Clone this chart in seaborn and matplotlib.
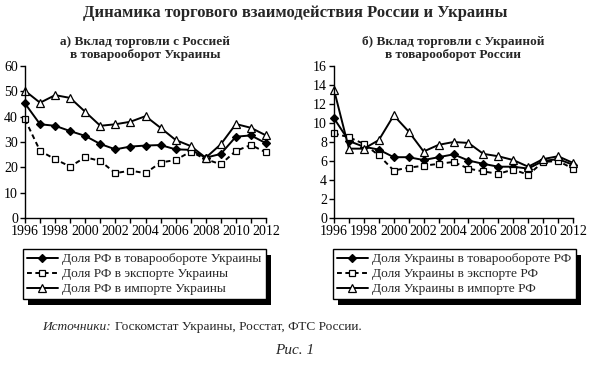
import matplotlib

matplotlib.use("Agg")
import matplotlib.pyplot as plt
import numpy as np
import pandas as pd
import seaborn as sns
from matplotlib.patches import Rectangle

YEARS = list(range(1996, 2013))

# а) доля России во внешней торговле Украины, %
UA_TURNOVER = [45.2, 37.0, 36.4, 34.3, 32.4, 29.2, 27.1, 28.2, 28.6, 28.8, 27.1, 26.9, 23.8, 25.3, 32.1, 32.6, 29.5]
UA_EXPORT = [38.9, 26.5, 23.2, 20.3, 24.0, 22.5, 17.7, 18.7, 17.7, 21.9, 22.9, 26.2, 23.2, 21.2, 26.5, 28.8, 25.9]
UA_IMPORT = [50.2, 45.5, 48.5, 47.4, 41.9, 36.4, 37.0, 38.0, 40.2, 35.6, 30.8, 28.4, 23.8, 29.1, 37.1, 35.6, 32.6]

# б) доля Украины во внешней торговле России, %
RU_TURNOVER = [10.5, 8.1, 7.5, 7.2, 6.4, 6.4, 6.1, 6.4, 6.7, 6.05, 5.7, 5.4, 5.4, 5.2, 6.0, 6.2, 5.6]
RU_EXPORT = [8.9, 8.5, 7.8, 6.6, 5.0, 5.3, 5.5, 5.7, 5.9, 5.2, 4.9, 4.65, 5.1, 4.55, 5.9, 6.0, 5.2]
RU_IMPORT = [13.5, 7.3, 7.3, 8.2, 10.8, 9.1, 7.0, 7.7, 8.0, 7.9, 6.75, 6.5, 6.1, 5.4, 6.2, 6.5, 5.8]

LABELS_A = ["Доля РФ в товарообороте Украины", "Доля РФ в экспорте Украины", "Доля РФ в импорте Украины"]
LABELS_B = ["Доля Украины в товарообороте РФ", "Доля Украины в экспорте РФ", "Доля Украины в импорте РФ"]

sns.set_theme(style="ticks")
plt.rcParams["font.family"] = ["Liberation Serif", "DejaVu Serif"]
plt.rcParams.update({"axes.edgecolor": "black", "axes.linewidth": 1.0,
                     "xtick.color": "black", "ytick.color": "black"})

STYLES = [
    dict(marker="D", ms=4.2, mfc="black", ls="-"),
    dict(marker="s", ms=4.8, mfc="white", ls=(0, (2.5, 1.8))),
    dict(marker="^", ms=5.2, mfc="white", ls="-"),
]

fig = plt.figure(figsize=(5.9, 3.65), dpi=100)
ax1 = fig.add_axes([25 / 590, 1 - 218 / 365, 241 / 590, 152 / 365])
ax2 = fig.add_axes([334 / 590, 1 - 218 / 365, 239 / 590, 152 / 365])


def panel(ax, series, labels, ymax, ystep, title, leg_x):
    for vals, lab, st in zip(series, labels, STYLES):
        df = pd.DataFrame({"year": YEARS, "v": vals})
        sns.lineplot(data=df, x="year", y="v", ax=ax, color="black", lw=1.4,
                     linestyle=st["ls"], marker=st["marker"], markersize=st["ms"],
                     markerfacecolor=st["mfc"], markeredgecolor="black",
                     markeredgewidth=0.9, label=lab, legend=False, clip_on=False)
    ax.set_xlim(1996, 2012)
    ax.set_ylim(0, ymax)
    ax.set_xticks(YEARS, minor=True)
    ax.set_xticks(range(1996, 2013, 2))
    ax.set_yticks(np.arange(0, ymax + 0.1, ystep))
    ax.tick_params(axis="both", which="major", labelsize=10, length=3.5, width=1, pad=1.5)
    ax.tick_params(axis="x", which="minor", length=3.5, width=1)
    ax.set_xlabel("")
    ax.set_ylabel("")
    for sp in ("top", "right"):
        ax.spines[sp].set_visible(False)
    ax.set_title(title, fontsize=9.5, fontweight="bold", pad=6, linespacing=1.1)
    leg = fig.legend(handles=ax.get_lines(), labels=labels, loc="upper left",
                     bbox_to_anchor=(leg_x / 590, 1 - 249 / 365), fontsize=9.6,
                     frameon=True, fancybox=False, edgecolor="black", framealpha=1,
                     handlelength=2.3, handletextpad=0.35, labelspacing=0.2,
                     borderpad=0.3, borderaxespad=0)
    leg.get_frame().set_linewidth(1.0)
    return leg


leg1 = panel(ax1, [UA_TURNOVER, UA_EXPORT, UA_IMPORT], LABELS_A, 60, 10,
             "а) Вклад торговли с Россией\nв товарооборот Украины", 23)
leg2 = panel(ax2, [RU_TURNOVER, RU_EXPORT, RU_IMPORT], LABELS_B, 16, 2,
             "б) Вклад торговли с Украиной\nв товарооборот России", 333)

fig.suptitle("Динамика торгового взаимодействия России и Украины",
             fontsize=12, fontweight="bold", y=0.985)

# тени под легендами
fig.canvas.draw()
inv = fig.transFigure.inverted()
for leg in (leg1, leg2):
    bb = leg.get_window_extent()
    (x0, y0), (x1, y1) = inv.transform([[bb.x0 + 5, bb.y0 - 6], [bb.x1 + 5, bb.y1 - 6]])
    fig.patches.append(Rectangle((x0, y0), x1 - x0, y1 - y0, transform=fig.transFigure,
                                 facecolor="black", edgecolor="none", zorder=0))
    leg.set_zorder(5)

t = fig.text(42 / 590, 1 - 327 / 365, "Источники:", fontsize=9.6, style="italic", va="center")
fig.canvas.draw()
bb = t.get_window_extent()
fig.text(inv.transform((bb.x1 + 4, 0))[0], 1 - 327 / 365,
         "Госкомстат Украины, Росстат, ФТС России.", fontsize=9.6, va="center")
fig.text(0.5, 1 - 350 / 365, "Рис. 1", fontsize=11, style="italic", ha="center", va="center")

fig.savefig("out.png", dpi=100)
